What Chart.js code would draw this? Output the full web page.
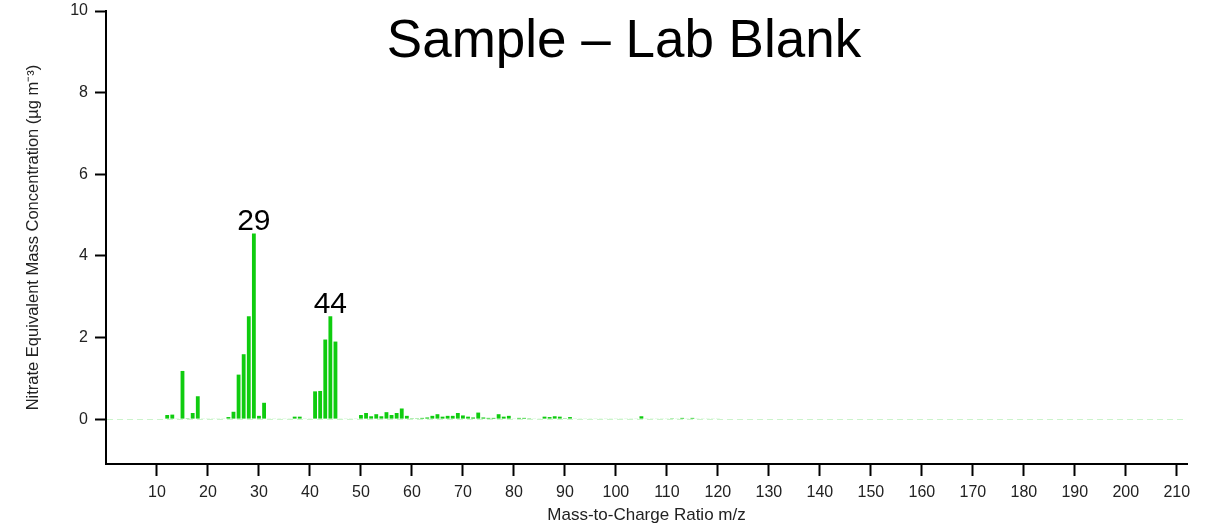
<!DOCTYPE html>
<html lang="en">
<head>
  <meta charset="UTF-8">
  <title>Sample – Lab Blank</title>
  <script src="https://cdn.jsdelivr.net/npm/chart.js"></script>
  <style>
    html, body { margin: 0; padding: 0; background: #fff; }
  </style>
</head>
<body>
  <canvas id="msChart" width="1220" height="528"></canvas>

  <script>
    // Mass spectrum (m/z) and nitrate equivalent concentration, ug m-3
    const mz = [
      12, 13, 14, 15, 16, 17, 18, 19, 20, 21, 22, 23, 24, 25, 26, 27, 28, 29, 30, 31,
      32, 33, 34, 35, 36, 37, 38, 39, 40, 41, 42, 43, 44, 45, 46, 47, 48, 49, 50, 51,
      52, 53, 54, 55, 56, 57, 58, 59, 60, 61, 62, 63, 64, 65, 66, 67, 68, 69, 70, 71,
      72, 73, 74, 75, 76, 77, 78, 79, 80, 81, 82, 83, 84, 85, 86, 87, 88, 89, 90, 91,
      92, 93, 94, 95, 96, 97, 98, 99, 100, 101, 102, 103, 104, 105, 106, 107, 108, 109, 110, 111,
      112, 113, 114, 115, 116, 117, 118, 119, 120
    ];
    const conc = [
      0.10, 0.11, 0.01, 1.18, 0.02, 0.15, 0.56, 0.01, 0.01, 0.01, 0.01, 0.01, 0.05, 0.18, 1.09, 1.59, 2.52, 4.55, 0.08, 0.40,
      0.01, 0.01, 0.01, 0.01, 0.01, 0.06, 0.06, 0.01, 0.01, 0.68, 0.69, 1.95, 2.52, 1.90, 0.01, 0.01, 0.01, 0.01, 0.10, 0.15,
      0.07, 0.12, 0.07, 0.17, 0.10, 0.15, 0.26, 0.08, 0.02, 0.02, 0.03, 0.04, 0.08, 0.12, 0.06, 0.08, 0.08, 0.15, 0.09, 0.06,
      0.04, 0.16, 0.04, 0.03, 0.03, 0.12, 0.06, 0.08, 0.01, 0.03, 0.03, 0.02, 0.01, 0.01, 0.06, 0.05, 0.07, 0.06, 0.02, 0.05,
      0.01, 0.01, 0.01, 0.01, 0.01, 0.01, 0.01, 0.01, 0.01, 0.01, 0.01, 0.01, 0.01, 0.07, 0.01, 0.01, 0.01, 0.01, 0.01, 0.02,
      0.01, 0.03, 0.01, 0.03, 0.01, 0.01, 0.01, 0.01, 0.01
    ];
    const peakLabels = [29, 44]; // m/z peaks that get a number on top
    const xTicks = [10, 20, 30, 40, 50, 60, 70, 80, 90, 100, 110, 120, 130, 140, 150, 160, 170, 180, 190, 200, 210];
    const yTicks = [0, 2, 4, 6, 8, 10];

    const titleText = 'Sample – Lab Blank';
    const barColor = '#0fcc0f';

    Chart.defaults.font.family = "'Liberation Sans', Arial, sans-serif";
    Chart.defaults.color = '#222';

    // draws the big title inside the plot and the peak numbers
    const textPlugin = {
      id: 'textPlugin',
      afterDatasetsDraw(chart) {
        const ctx = chart.ctx;
        const xs = chart.scales.x, ys = chart.scales.y;

        ctx.save();
        ctx.fillStyle = '#000';
        ctx.textAlign = 'center';
        ctx.textBaseline = 'alphabetic';
        ctx.font = "53px 'Liberation Sans', Arial, sans-serif";
        ctx.fillText(titleText, 624, 57);

        ctx.font = "30px 'Liberation Sans', Arial, sans-serif";
        peakLabels.forEach(p => {
          const v = conc[mz.indexOf(p)];
          ctx.fillText(String(p), xs.getPixelForValue(p), ys.getPixelForValue(v) - 3);
        });
        ctx.restore();
      }
    };

    new Chart(document.getElementById('msChart'), {
      type: 'bar',
      data: {
        datasets: [{
          data: mz.map((m, i) => ({ x: m, y: conc[i] })),
          backgroundColor: barColor,
          borderWidth: 0,
          barPercentage: 0.75,
          categoryPercentage: 1.0
        }]
      },
      options: {
        responsive: false,
        animation: false,
        layout: { padding: { top: 11, right: 33, bottom: 0, left: 0 } },
        plugins: {
          legend: { display: false },
          tooltip: { enabled: false }
        },
        scales: {
          x: {
            type: 'linear',
            min: 0,
            max: 212,
            offset: false,
            afterBuildTicks: s => { s.ticks = xTicks.map(v => ({ value: v })); },
            afterFit: s => { s.height = 64; },
            ticks: { font: { size: 16 }, padding: 7, maxRotation: 0, autoSkip: false, callback: v => String(v) },
            grid: { offset: false, drawOnChartArea: false, color: '#000', tickColor: '#000', tickWidth: 2, tickLength: 12 },
            border: { color: '#000', width: 2 },
            title: { display: true, text: 'Mass-to-Charge Ratio m/z', font: { size: 17 }, padding: { top: 0, bottom: 2 } }
          },
          y: {
            min: -1.1,
            max: 10,
            afterBuildTicks: s => { s.ticks = yTicks.map(v => ({ value: v })); },
            afterFit: s => { s.width = 106; s.paddingTop = 0; },
            ticks: { font: { size: 16 }, padding: 7, callback: v => String(v) },
            grid: {
              color: c => (c.tick && c.tick.value === 0) ? 'rgba(0, 200, 0, 0.2)' : 'transparent',
              lineWidth: 1,
              tickColor: '#000',
              tickWidth: 2,
              tickLength: 11
            },
            border: { color: '#000', width: 2, dash: [6, 4] },
            title: { display: true, text: 'Nitrate Equivalent Mass Concentration (µg m⁻³)', font: { size: 16.5 }, padding: { top: 24, bottom: 0 } }
          }
        }
      },
      plugins: [textPlugin]
    });
  </script>
</body>
</html>
